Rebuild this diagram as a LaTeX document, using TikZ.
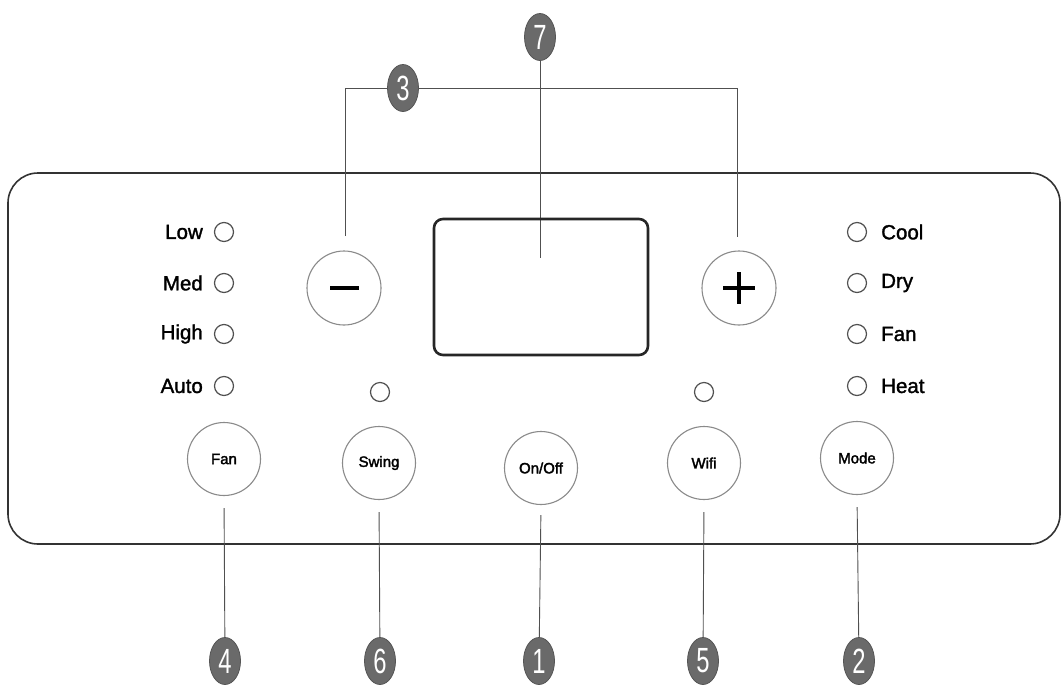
\documentclass[tikz,border=0pt]{standalone}
\usepackage{fontspec}
\setmainfont{Liberation Sans}
\newfontfamily\lblfont[FakeBold=1.5]{Liberation Sans}
\newfontfamily\btnfont[FakeBold=2.2]{Liberation Sans}
\usetikzlibrary{shapes.geometric,backgrounds}
\definecolor{calloutgray}{HTML}{6A6A6A}
\definecolor{linegray}{HTML}{505050}
\definecolor{btngray}{HTML}{8A8A8A}
\tikzset{
  callout/.style={ellipse, fill=calloutgray, draw=calloutgray!80!black, line width=0.8pt,
    minimum width=31pt, minimum height=47pt, inner sep=0pt, text=white,
    font=\fontsize{35}{35}\selectfont},
  button/.style={circle, draw=btngray, line width=1.1pt, fill=white, minimum size=73pt,
    inner sep=0pt, font=\btnfont\fontsize{15}{15}\selectfont},
  led/.style={circle, draw=linegray, line width=1.2pt, minimum size=19pt, inner sep=0pt},
  lbl/.style={inner sep=0pt, font=\lblfont\fontsize{20.5}{20.5}\selectfont},
  lead/.style={draw=linegray, line width=0.9pt},
}
\newcommand{\cnum}[1]{\scalebox{0.68}[1]{#1}}
\begin{document}
\begin{tikzpicture}[x=1pt,y=-1pt]
\useasboundingbox (0,0) rectangle (1062,686);
% display
\node[draw=black!85, line width=2.6pt, rounded corners=9pt, minimum width=214pt, minimum height=136pt, inner sep=0pt] (disp) at (541,287) {};
% buttons
\node[button, minimum size=74pt] (minus) at (344,288) {};
\node[button, minimum size=74pt] (plus) at (739,288) {};
\draw[line width=4.2pt] (330,288) -- (359,288);
\draw[line width=3.6pt] (723,288) -- (755,288) (739,272) -- (739,304);
\node[button] (fan) at (224,459) {Fan};
\node[button] (swing) at (379,463) {Swing};
\node[button] (onoff) at (541,468) {On/Off};
\node[button] (wifi) at (704,463) {Wifi};
\node[button] (mode) at (857,458) {Mode};
% LEDs left
\foreach \y/\t/\n in {232/Low/a,283/Med/b,334/High/c,386/Auto/d}{
  \node[led] (ll\n) at (224,\y) {};
  \node[lbl, anchor=east] (lt\n) at (203,\y) {\t};
}
\foreach \y/\t/\n in {232/Cool/a,283/Dry/b,334/Fan/c,386/Heat/d}{
  \node[led] (rl\n) at (857,\y) {};
  \node[lbl, anchor=west] (rt\n) at (881,\y) {\t};
}
\node[led] (swled) at (380,392) {};
\node[led] (wfled) at (704,392) {};
% callouts
\node[callout] (c7) at (540,37) {\cnum{7}};
\node[callout] (c3) at (403,88) {\cnum{3}};
\node[callout] (c4) at (225,661) {\cnum{4}};
\node[callout] (c6) at (380,661) {\cnum{6}};
\node[callout] (c1) at (539,661) {\cnum{1}};
\node[callout] (c5) at (703,661) {\cnum{5}};
\node[callout] (c2) at (859,661) {\cnum{2}};
% coordinates
\coordinate (e7) at (540,258);
\coordinate (b3l) at (345,88);
\coordinate (b3r) at (737,88);
\coordinate (e3l) at (345,236);
\coordinate (e3r) at (737,237);
\begin{scope}[on background layer]
  \draw[draw=black!80, line width=1.6pt, rounded corners=30pt] (8,173) rectangle (1060,544);
  \draw[lead] (c7) -- (e7);
  \draw[lead] (e3l) -- (b3l) -- (b3r) -- (e3r);
  \draw[lead, shorten <=12pt] (fan.south) -- (c4);
  \draw[lead, shorten <=12pt] (swing.south) -- (c6);
  \draw[lead, shorten <=10pt] (onoff.south) -- (c1);
  \draw[lead, shorten <=12pt] (wifi.south) -- (c5);
  \draw[lead, shorten <=12pt] (mode.south) -- (c2);
\end{scope}
\end{tikzpicture}
\end{document}
